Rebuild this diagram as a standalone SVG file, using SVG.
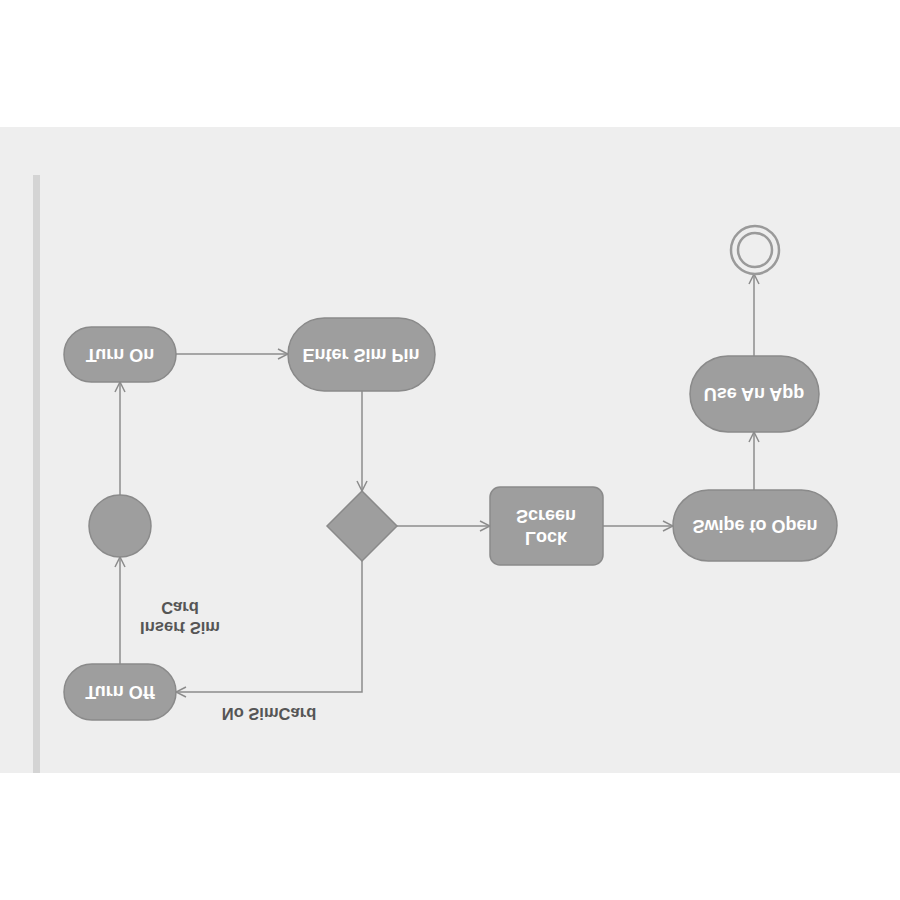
<svg xmlns="http://www.w3.org/2000/svg" width="900" height="900" viewBox="0 0 900 900">
<defs>
<style>
.node{fill:#9e9e9e;stroke:#8a8a8a;stroke-width:1.5}
.nt{font-family:"Liberation Sans",Arial,sans-serif;font-size:18px;font-weight:bold;fill:#ffffff;text-anchor:middle;dominant-baseline:central}
.lt{font-family:"Liberation Sans",Arial,sans-serif;font-size:16.5px;font-weight:bold;fill:#555555;text-anchor:middle;dominant-baseline:central}
.edge{fill:none;stroke:#8c8c8c;stroke-width:1.5}
</style>
<marker id="arr" viewBox="0 0 12 12" refX="11" refY="6" markerWidth="12" markerHeight="12" markerUnits="userSpaceOnUse" orient="auto">
<path d="M1,1 L11,6 L1,11" fill="none" stroke="#8c8c8c" stroke-width="1.5"/>
</marker>
</defs>
<rect x="0" y="0" width="900" height="900" fill="#ffffff"/>
<rect x="0" y="127" width="900" height="646" fill="#eeeeee"/>
<rect x="33" y="175" width="7" height="598" fill="#d4d4d4"/>
<g id="connectors">
<line class="edge" x1="176" y1="354" x2="288" y2="354" marker-end="url(#arr)"/>
<line class="edge" x1="362" y1="391" x2="362" y2="491" marker-end="url(#arr)"/>
<line class="edge" x1="397" y1="526" x2="490" y2="526" marker-end="url(#arr)"/>
<line class="edge" x1="603" y1="526" x2="673" y2="526" marker-end="url(#arr)"/>
<line class="edge" x1="754" y1="490" x2="754" y2="432" marker-end="url(#arr)"/>
<line class="edge" x1="754" y1="356" x2="754" y2="274" marker-end="url(#arr)"/>
<polyline class="edge" points="362,561 362,692 176,692" marker-end="url(#arr)"/>
<line class="edge" x1="120" y1="664" x2="120" y2="557" marker-end="url(#arr)"/>
<line class="edge" x1="120" y1="495" x2="120" y2="382" marker-end="url(#arr)"/>
<text class="lt" transform="translate(269,714) scale(1,-1)">No SimCard</text>
<text class="lt" transform="translate(180,628) scale(1,-1)">Insert Sim</text>
<text class="lt" transform="translate(180,608) scale(1,-1)">Card</text>
</g>
<g id="turn-on">
<rect class="node" x="64" y="327" width="112" height="55" rx="27.5"/>
<text class="nt" transform="translate(120,355) scale(1,-1)">Turn On</text>
</g>
<g id="enter-sim-pin">
<rect class="node" x="288" y="318" width="147" height="73" rx="36.5"/>
<text class="nt" transform="translate(361,355) scale(1,-1)">Enter Sim Pin</text>
</g>
<g id="initial">
<circle class="node" cx="120" cy="526" r="31"/>
</g>
<g id="decision">
<polygon class="node" points="362,491 397,526 362,561 327,526"/>
</g>
<g id="lock-screen">
<rect class="node" x="490" y="487" width="113" height="78" rx="10"/>
<text class="nt" transform="translate(546,516) scale(1,-1)">Screen</text>
<text class="nt" transform="translate(546,538) scale(1,-1)">Lock</text>
</g>
<g id="swipe-to-open">
<rect class="node" x="673" y="490" width="164" height="71" rx="35.5"/>
<text class="nt" transform="translate(755,526) scale(1,-1)">Swipe to Open</text>
</g>
<g id="use-an-app">
<rect class="node" x="690" y="356" width="129" height="76" rx="38"/>
<text class="nt" transform="translate(754,394) scale(1,-1)">Use An App</text>
</g>
<g id="final">
<circle cx="755" cy="250" r="24" fill="none" stroke="#9a9a9a" stroke-width="2.5"/>
<circle cx="755" cy="250" r="17" fill="none" stroke="#9a9a9a" stroke-width="2.5"/>
</g>
<g id="turn-off">
<rect class="node" x="64" y="664" width="112" height="56" rx="28"/>
<text class="nt" transform="translate(120,692) scale(1,-1)">Turn Off</text>
</g>
</svg>
